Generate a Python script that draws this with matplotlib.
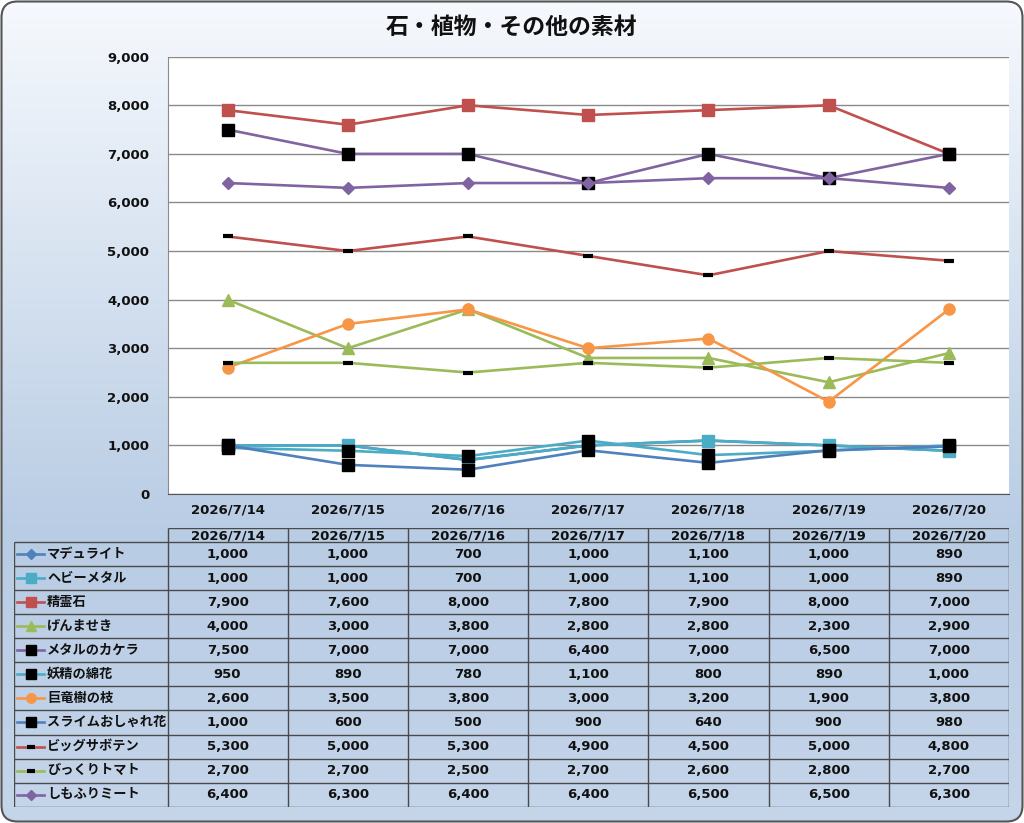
import numpy as np
import matplotlib
matplotlib.use("Agg")
import matplotlib.pyplot as plt
from matplotlib.patches import FancyBboxPatch
from matplotlib.colors import LinearSegmentedColormap
from matplotlib.ticker import FuncFormatter, MultipleLocator

plt.rcParams['font.family'] = ['DejaVu Sans', 'Noto Sans CJK JP']

# =====================================================
# DATA
# =====================================================

title = "石・植物・その他の素材"

dates = ["2026/7/14", "2026/7/15", "2026/7/16", "2026/7/17",
         "2026/7/18", "2026/7/19", "2026/7/20"]

names = ["マデュライト", "ヘビーメタル", "精霊石", "げんませき", "メタルのカケラ",
         "妖精の綿花", "巨竜樹の枝", "スライムおしゃれ花", "ビッグサボテン",
         "びっくりトマト", "しもふりミート"]

madyuraito = [1000, 1000, 700, 1000, 1100, 1000, 890]
heavy_metal = [1000, 1000, 700, 1000, 1100, 1000, 890]
seireiseki = [7900, 7600, 8000, 7800, 7900, 8000, 7000]
genmaseki = [4000, 3000, 3800, 2800, 2800, 2300, 2900]
metal_kakera = [7500, 7000, 7000, 6400, 7000, 6500, 7000]
yousei_menka = [950, 890, 780, 1100, 800, 890, 1000]
kyoryu_eda = [2600, 3500, 3800, 3000, 3200, 1900, 3800]
slime_hana = [1000, 600, 500, 900, 640, 900, 980]
big_saboten = [5300, 5000, 5300, 4900, 4500, 5000, 4800]
bikkuri_tomato = [2700, 2700, 2500, 2700, 2600, 2800, 2700]
shimofuri_meat = [6400, 6300, 6400, 6400, 6500, 6500, 6300]

values = [madyuraito, heavy_metal, seireiseki, genmaseki, metal_kakera,
          yousei_menka, kyoryu_eda, slime_hana, big_saboten,
          bikkuri_tomato, shimofuri_meat]

# =====================================================
# STYLES
# =====================================================

BLUE = '#4F81BD'
CYAN = '#4BACC6'
RED = '#C0504D'
GREEN = '#9BBB59'
PURPLE = '#8064A2'
ORANGE = '#F79646'

# (line colour, marker, marker face, marker size, marker edge width)
styles = [
    (BLUE, 'D', BLUE, 6, 1),
    (CYAN, 's', CYAN, 8, 1),
    (RED, 's', RED, 8, 1),
    (GREEN, '^', GREEN, 8, 1),
    (PURPLE, 's', 'black', 8, 1),
    (CYAN, 's', 'black', 8, 1),
    (ORANGE, 'o', ORANGE, 8, 1),
    (BLUE, 's', 'black', 8, 1),
    (RED, '_', 'black', 7, 3),
    (GREEN, '_', 'black', 7, 3),
    (PURPLE, 'D', PURPLE, 6, 1),
]

TEXT = '#111111'
NUM_FS = 9.5
W, H = 1024, 823


def fx(px):
    return px / W


def fy(py):
    return 1 - py / H


fig = plt.figure(figsize=(W / 100, H / 100), dpi=100)

# =====================================================
# BACKGROUND
# =====================================================

bg = fig.add_axes([0, 0, 1, 1])
bg.set_xlim(0, W)
bg.set_ylim(H, 0)
bg.axis('off')
cmap = LinearSegmentedColormap.from_list(
    'bg', [(0.0, '#f6f9fd'), (0.65, '#b8cce4'), (1.0, '#c5d5ea')])
grad = np.linspace(0, 1, 256).reshape(-1, 1)
img = bg.imshow(grad, cmap=cmap, aspect='auto', extent=(0, W, H, 0), zorder=0)
frame = FancyBboxPatch((1.5, 1.5), W - 3, H - 3,
                       boxstyle="round,pad=0,rounding_size=16",
                       facecolor='none', edgecolor='#555555', linewidth=1.5,
                       zorder=2)
bg.add_patch(frame)
img.set_clip_path(frame)

fig.text(0.5, fy(27), title, ha='center', va='center',
         fontsize=16.5, fontweight='bold', color=TEXT)

# =====================================================
# LINE CHART
# =====================================================

left, right, top, bottom = 167.5, 1009, 56.7, 494
ax = fig.add_axes([fx(left), fy(bottom), (right - left) / W, (bottom - top) / H])
ax.set_facecolor('white')

x = np.arange(len(dates))
for i, (vals, st) in enumerate(zip(values, styles)):
    color, marker, face, ms, mew = st
    edge = 'black' if marker == '_' else face
    ax.plot(x, vals, color=color, linewidth=1.9, marker=marker,
            markerfacecolor=face, markeredgecolor=edge, markersize=ms,
            markeredgewidth=mew, zorder=3 + i)

ax.set_xlim(-0.5, len(dates) - 0.5)
ax.set_ylim(0, 9000)
ax.yaxis.set_major_locator(MultipleLocator(1000))
ax.yaxis.set_major_formatter(FuncFormatter(lambda v, p: f"{int(v):,}"))
ax.set_xticks(x)
ax.set_xticklabels(dates)
ax.grid(axis='y', color='#8a8a8a', linewidth=1)
ax.set_axisbelow(True)
for side in ['top', 'right']:
    ax.spines[side].set_visible(False)
ax.spines['left'].set_color('#8a8a8a')
ax.spines['bottom'].set_color('#555555')
ax.tick_params(axis='both', length=0, labelsize=NUM_FS, colors=TEXT)
ax.tick_params(axis='y', pad=13)
ax.tick_params(axis='x', pad=7)
for lab in ax.get_xticklabels() + ax.get_yticklabels():
    lab.set_fontweight('bold')

# =====================================================
# DATA TABLE
# =====================================================

col_w = (right - left) / len(dates)
t_left, t_top, t_bottom = 14, 527.5, 806.7
n_rows = len(names)
head_h = (542 - t_top) / ((t_bottom - 542) / n_rows)
xl = -0.5 - (left - t_left) / col_w

tax = fig.add_axes([fx(t_left), fy(t_bottom), (right - t_left) / W,
                    (t_bottom - t_top) / H])
tax.set_xlim(xl, len(dates) - 0.5)
tax.set_ylim(n_rows, -head_h)
tax.axis('off')

line_kw = dict(color='#4a4a4a', linewidth=1)
# horizontal rules
tax.hlines([-head_h], -0.5, len(dates) - 0.5, **line_kw)
tax.hlines(np.arange(n_rows + 1), xl, len(dates) - 0.5, **line_kw)
# vertical rules
tax.vlines([xl], 0, n_rows, **line_kw)
tax.vlines(np.arange(len(dates) + 1) - 0.5, -head_h, n_rows, **line_kw)

for j, d in enumerate(dates):
    tax.text(j, -head_h / 2 + 0.06, d, ha='center', va='center',
             fontsize=NUM_FS, fontweight='bold', color=TEXT)

for i, (name, vals, st) in enumerate(zip(names, values, styles)):
    color, marker, face, ms, mew = st
    edge = 'black' if marker == '_' else face
    yc = i + 0.5
    tax.plot([xl + 3 / col_w, xl + 30 / col_w], [yc, yc], color=color,
             linewidth=1.9)
    tax.plot([xl + 16.5 / col_w], [yc], marker=marker, markerfacecolor=face,
             markeredgecolor=edge, markersize=ms * 0.85, markeredgewidth=mew,
             linestyle='none')
    tax.text(xl + 33 / col_w, yc, name, ha='left', va='center',
             fontsize=9.5, fontweight='bold', color=TEXT)
    for j, v in enumerate(vals):
        tax.text(j, yc, f"{v:,}", ha='center', va='center',
                 fontsize=NUM_FS, fontweight='bold', color=TEXT)

fig.savefig("out.png", dpi=100)
print("out.png saved")
